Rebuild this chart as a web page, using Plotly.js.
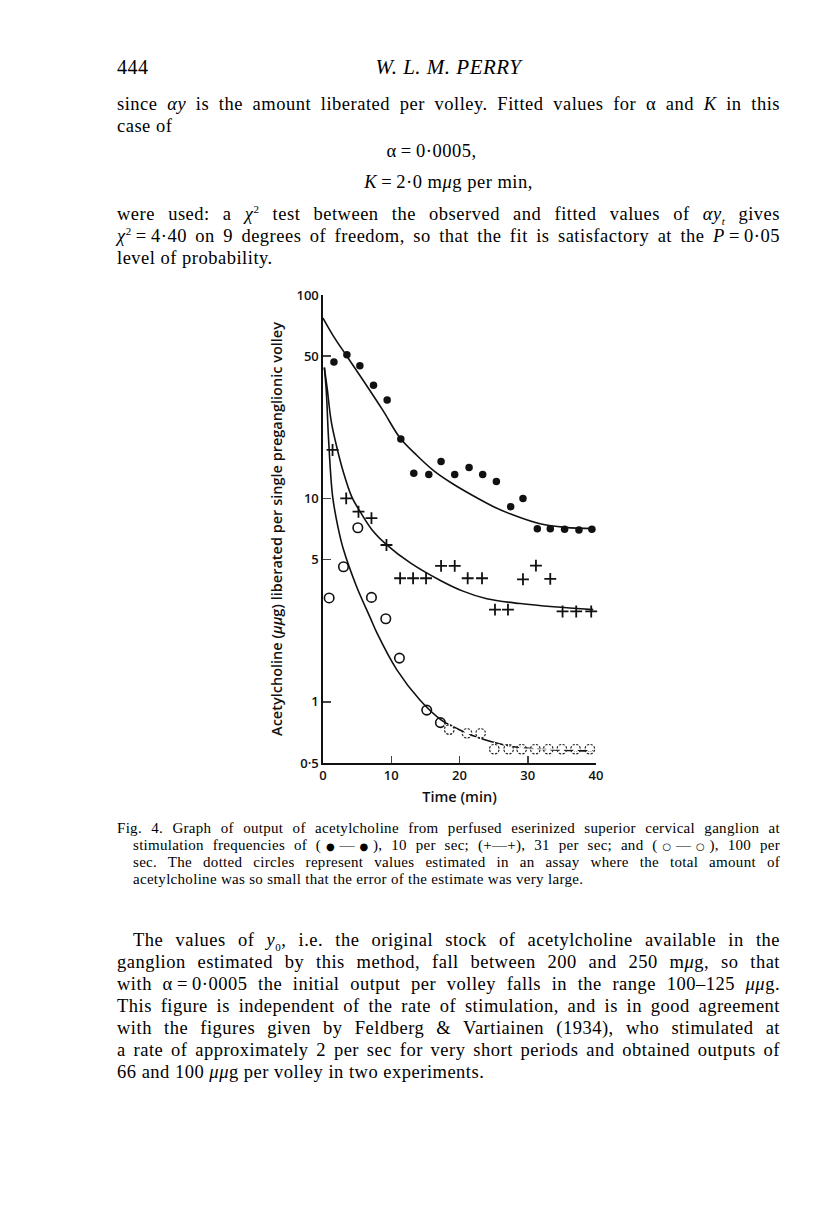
<!DOCTYPE html>
<html>
<head>
<meta charset="utf-8">
<script src="https://cdn.plot.ly/plotly-3.0.1.min.js"></script>
<style>
  body { margin: 0; background: #fff; }
  #page { position: relative; width: 816px; height: 1221px; background: #fff;
          font-family: "Liberation Serif", "DejaVu Serif", serif; color: #000; }
  .ln { position: absolute; left: 117px; width: 663px; font-size: 18.5px; line-height: 22px;
        letter-spacing: 0.5px; white-space: nowrap; }
  .full { text-align: justify; text-align-last: justify; white-space: normal; }
  .cap { position: absolute; width: 647px; left: 133px; font-size: 15px; line-height: 17px;
         letter-spacing: 0.3px; }
  .ctr { text-align: center; left: 117px; width: 663px; }
  .dot { font-family: "DejaVu Sans", sans-serif; font-size: 10px; letter-spacing: 0; }
  sup, sub { font-size: 11px; line-height: 0; }
  #plotArea { position: absolute; left: 240px; top: 280px; width: 380px; height: 540px; }
</style>
</head>
<body>
<div id="page">
  <div class="ln" style="top:56px; font-size:20px;">444</div>
  <div class="ln ctr" style="top:56px; font-size:21px;"><i>W. L. M. PERRY</i></div>
  <div class="ln full" style="top:93px;">since <i>αy</i> is the amount liberated per volley. Fitted values for α and <i>K</i> in this</div>
  <div class="ln" style="top:115px;">case of</div>
  <div class="ln ctr" style="top:140px; left:100px;">α&#8201;=&#8201;0·0005,</div>
  <div class="ln ctr" style="top:171px;"><i>K</i>&#8201;=&#8201;2·0 m<i>μ</i>g per min,</div>
  <div class="ln full" style="top:203px;">were used: a <i>χ</i><sup>2</sup> test between the observed and fitted values of <i>αy<sub>t</sub></i> gives</div>
  <div class="ln full" style="top:225px;"><i>χ</i><sup>2</sup>&#8201;=&#8201;4·40 on 9 degrees of freedom, so that the fit is satisfactory at the <i>P</i>&#8201;=&#8201;0·05</div>
  <div class="ln" style="top:247px;">level of probability.</div>

  <div id="plotArea"></div>

  <div class="cap full" style="top:820px; left:117px; width:663px;">Fig. 4. Graph of output of acetylcholine from perfused eserinized superior cervical ganglion at</div>
  <div class="cap full" style="top:837px;">stimulation frequencies of (<span class="dot">●</span>—<span class="dot">●</span>), 10 per sec; (+—+), 31 per sec; and (<span class="dot">○</span>—<span class="dot">○</span>), 100 per</div>
  <div class="cap full" style="top:854px;">sec. The dotted circles represent values estimated in an assay where the total amount of</div>
  <div class="cap" style="top:871px;">acetylcholine was so small that the error of the estimate was very large.</div>

  <div class="ln full" style="top:929px; left:133px; width:647px;">The values of <i>y</i><sub>0</sub>, i.e. the original stock of acetylcholine available in the</div>
  <div class="ln full" style="top:951px;">ganglion estimated by this method, fall between 200 and 250 m<i>μ</i>g, so that</div>
  <div class="ln full" style="top:973px;">with α&#8201;=&#8201;0·0005 the initial output per volley falls in the range 100–125 <i>μμ</i>g.</div>
  <div class="ln full" style="top:995px;">This figure is independent of the rate of stimulation, and is in good agreement</div>
  <div class="ln full" style="top:1017px;">with the figures given by Feldberg &amp; Vartiainen (1934), who stimulated at</div>
  <div class="ln full" style="top:1039px;">a rate of approximately 2 per sec for very short periods and obtained outputs of</div>
  <div class="ln" style="top:1061px;">66 and 100 <i>μμ</i>g per volley in two experiments.</div>
</div>

<script>
// observed outputs, 10 per sec (filled dots)
var t10 = [1.6, 3.5, 5.4, 7.4, 9.4, 11.4, 13.3, 15.5, 17.3, 19.3, 21.4, 23.4, 25.4, 27.5, 29.3, 31.4, 33.3, 35.4, 37.5, 39.4];
var y10 = [46.9, 50.8, 44.9, 36, 30.5, 19.6, 13.3, 13.1, 15.2, 13.1, 14.2, 13.1, 12.1, 9.1, 10.0, 7.1, 7.1, 7.05, 7.0, 7.05];

// 31 per sec (crosses)
var t31 = [1.4, 3.4, 5.2, 7.1, 9.3, 11.3, 13.2, 15.1, 17.3, 19.3, 21.2, 23.3, 25.2, 27.1, 29.3, 31.2, 33.3, 35.1, 37.1, 39.3];
var y31 = [17.3, 10.0, 8.6, 8.0, 5.9, 4.05, 4.05, 4.05, 4.66, 4.66, 4.05, 4.05, 2.84, 2.84, 4.0, 4.67, 4.02, 2.78, 2.78, 2.78];

// 100 per sec (open circles)
var t100 = [0.9, 3.0, 5.1, 7.1, 9.2, 11.2, 15.2, 17.2];
var y100 = [3.24, 4.61, 7.17, 3.26, 2.56, 1.64, 0.91, 0.79];

// 100 per sec, poorly estimated values (dotted circles)
var t100e = [18.5, 21.1, 23.1, 25.1, 27.2, 29.1, 31.1, 33.0, 35.0, 37.0, 39.1];
var y100e = [0.73, 0.70, 0.70, 0.585, 0.585, 0.585, 0.585, 0.585, 0.585, 0.585, 0.585];

// fitted curves
var fit10x = [0, 1.5, 3.5, 5.9, 8.8, 11.3, 13.8, 16.2, 19.0, 22.0, 25.0, 27.4, 31.8, 35.5, 39.6];
var fit10y = [77, 63, 50, 38, 27, 19.8, 16.2, 13.7, 11.8, 10.3, 9.1, 8.4, 7.5, 7.2, 7.1];

var fit31x = [0.2, 0.6, 1.2, 2.0, 3.0, 4.2, 5.4, 7.2, 9.3, 12.8, 17.2, 20.5, 24.0, 28.9, 33.8, 39.6];
var fit31y = [44, 35, 24, 18, 13.4, 10.2, 8.65, 7.0, 5.93, 4.82, 3.95, 3.5, 3.21, 3.04, 2.93, 2.84];

var fit100x = [0.2, 0.5, 0.8, 1.4, 2.2, 3.0, 4.9, 6.9, 7.9, 10.8, 14.2, 17.2, 19.6, 22.0, 26.9, 31.8, 39.6];
var fit100y = [44, 33, 20, 10.3, 7.2, 5.6, 3.7, 2.6, 2.18, 1.44, 1.02, 0.82, 0.74, 0.68, 0.61, 0.585, 0.573];

var yTicks = [0.5, 1, 5, 10, 50, 100];
var yTickText = ["0·5", "1", "5", "10", "50", "100"];
var xTicks = [0, 10, 20, 30, 40];

var fitLine = {color: "#111", width: 1.6, shape: "spline", smoothing: 1};

var data = [
  {x: fit10x, y: fit10y, mode: "lines", line: fitLine, hoverinfo: "skip"},
  {x: fit31x, y: fit31y, mode: "lines", line: fitLine, hoverinfo: "skip"},
  {x: fit100x, y: fit100y, mode: "lines", line: fitLine, hoverinfo: "skip"},
  {x: t10, y: y10, mode: "markers", cliponaxis: false,
   marker: {symbol: "circle", size: 7.5, color: "#111"}},
  {x: t31, y: y31, mode: "markers", cliponaxis: false,
   marker: {symbol: "cross-thin", size: 8.5, line: {color: "#111", width: 1.8}}},
  {x: t100, y: y100, mode: "markers", cliponaxis: false,
   marker: {symbol: "circle-open", size: 9.5, color: "#111", line: {width: 1.6}}},
  {x: t100e, y: y100e, mode: "markers", cliponaxis: false,
   marker: {symbol: "circle-open", size: 9.5, color: "#222", line: {width: 1.3}}},
  // white spokes over the estimated circles make them look dotted
  {x: t100e, y: y100e, mode: "markers", cliponaxis: false,
   marker: {symbol: "asterisk-open", size: 12, color: "#fff", line: {color: "#fff", width: 1.4}}}
];

var tickFont = {family: "Open Sans, Lato, sans-serif", size: 13, color: "#111", weight: 600};
var titleFont = {family: "Open Sans, sans-serif", size: 14.5, color: "#111", weight: 600};

var layout = {
  showlegend: false,
  margin: {l: 83, r: 24, t: 15, b: 57},
  paper_bgcolor: "rgba(0,0,0,0)",
  plot_bgcolor: "rgba(0,0,0,0)",
  xaxis: {
    range: [0, 40], tickvals: xTicks, ticks: "inside", ticklen: 7, tickwidth: 1.5,
    showline: true, linecolor: "#111", linewidth: 1.6, showgrid: false, zeroline: false,
    tickfont: tickFont,
    title: {text: "Time (min)", standoff: 8, font: titleFont}
  },
  yaxis: {
    type: "log", range: [Math.log10(0.5), 2], tickvals: yTicks, ticktext: yTickText,
    ticks: "inside", ticklen: 8, tickwidth: 1.5,
    showline: true, linecolor: "#111", linewidth: 1.6, showgrid: false, zeroline: false,
    tickfont: tickFont,
    title: {text: "Acetylcholine (<i>μμ</i>g) liberated per single preganglionic volley",
            standoff: 10, font: titleFont}
  }
};

Plotly.newPlot("plotArea", data, layout, {displayModeBar: false, staticPlot: true});
</script>
</body>
</html>
